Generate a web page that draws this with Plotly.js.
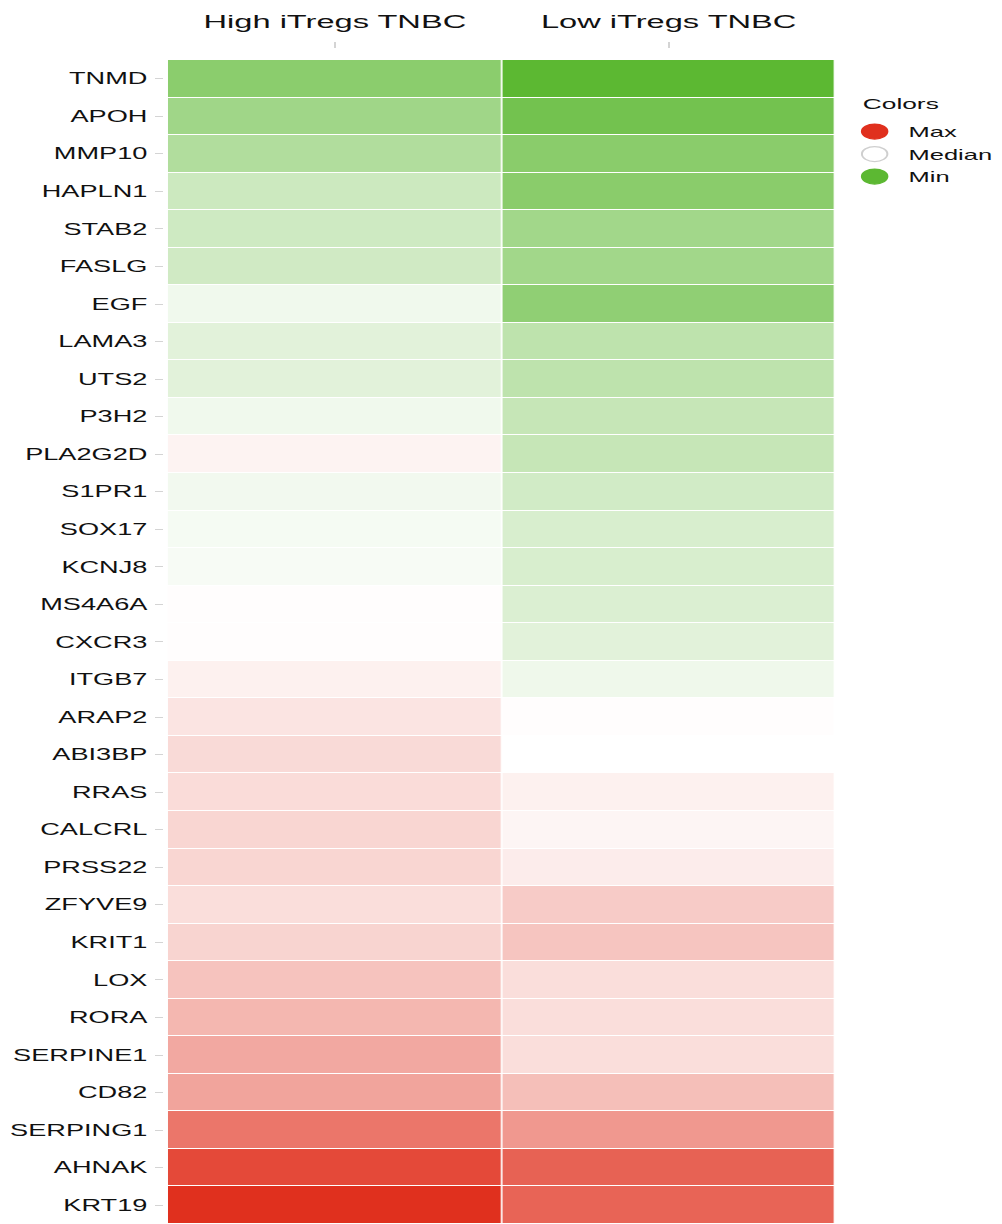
<!DOCTYPE html>
<html>
<head>
<meta charset="utf-8">
<script src="https://cdn.plot.ly/plotly-3.0.1.min.js"></script>
<style>
  html, body { margin: 0; padding: 0; background: #ffffff; overflow: hidden; }
  /* The figure is laid out narrow and then widened horizontally to fill the page */
  #chart { width: 590px; height: 1224px; transform: scaleX(1.6983); transform-origin: 0 0; }
</style>
</head>
<body>
<div id="chart"></div>
<script>
// Column groups
const groups = ['High iTregs TNBC', 'Low iTregs TNBC'];

// Genes, top to bottom
const genes = [
  'TNMD', 'APOH', 'MMP10', 'HAPLN1', 'STAB2', 'FASLG', 'EGF', 'LAMA3', 'UTS2', 'P3H2',
  'PLA2G2D', 'S1PR1', 'SOX17', 'KCNJ8', 'MS4A6A', 'CXCR3', 'ITGB7', 'ARAP2', 'ABI3BP', 'RRAS',
  'CALCRL', 'PRSS22', 'ZFYVE9', 'KRIT1', 'LOX', 'RORA', 'SERPINE1', 'CD82', 'SERPING1', 'AHNAK',
  'KRT19'
];

// Scaled expression (-1 = min, 0 = median, 1 = max)
const highITregs = [
  -0.71, -0.58, -0.48, -0.31, -0.30, -0.29, -0.09, -0.18, -0.18, -0.09,
   0.06, -0.08, -0.06, -0.05,  0.01,  0.01,  0.07,  0.13,  0.18,  0.17,
   0.20,  0.20,  0.16,  0.21,  0.29,  0.35,  0.42,  0.44,  0.66,  0.88,
   1.00
];
const lowITregs = [
  -1.00, -0.86, -0.72, -0.72, -0.57, -0.57, -0.68, -0.40, -0.40, -0.35,
  -0.35, -0.28, -0.24, -0.24, -0.22, -0.18, -0.10,  0.01,  0.00,  0.07,
   0.05,  0.09,  0.25,  0.28,  0.16,  0.16,  0.16,  0.31,  0.50,  0.76,
   0.75
];

// Legend entries
const legendTitle = 'Colors';
const legendNames = ['Max', 'Median', 'Min'];
const legendFill = ['#e0301e', '#ffffff', '#5cb832'];
const legendEdge = ['#e0301e', '#cfcfcf', '#5cb832'];

const z = genes.map((g, i) => [highITregs[i], lowITregs[i]]);

const heat = {
  type: 'heatmap',
  x: groups,
  y: genes,
  z: z,
  zmin: -1,
  zmax: 1,
  colorscale: [[0, '#5cb832'], [0.5, '#ffffff'], [1, '#e0301e']],
  showscale: false,
  xgap: 1,
  ygap: 1
};

const legendTraces = legendNames.map((name, i) => ({
  type: 'scatter',
  mode: 'markers',
  x: [null],
  y: [null],
  name: name,
  marker: { size: 15, color: legendFill[i], line: { color: legendEdge[i], width: 1.2 } },
  showlegend: true,
  hoverinfo: 'skip'
}));

const font = 'Liberation Sans, Arial, Helvetica, sans-serif';
const ink = '#111111';

const layout = {
  width: 590,
  height: 1224,
  margin: { l: 96, r: 98, t: 48, b: 0, pad: 0 },
  paper_bgcolor: '#ffffff',
  plot_bgcolor: '#ffffff',
  font: { family: font, color: ink },
  xaxis: {
    domain: [0.0073, 1],
    side: 'top',
    anchor: 'free',
    position: 1,
    showgrid: false,
    zeroline: false,
    showline: false,
    ticks: 'outside',
    ticklen: 6,
    tickwidth: 1,
    tickcolor: '#d4d4d4',
    ticklabelstandoff: 6,
    tickfont: { size: 19.2, family: font, color: ink },
    fixedrange: true
  },
  yaxis: {
    domain: [0, 0.9898],
    anchor: 'free',
    position: 0,
    autorange: 'reversed',
    showgrid: false,
    zeroline: false,
    showline: false,
    ticks: 'outside',
    ticklen: 5,
    tickwidth: 1,
    tickcolor: '#d4d4d4',
    ticklabelstandoff: 1,
    tickfont: { size: 16, family: font, color: ink },
    fixedrange: true
  },
  showlegend: true,
  legend: {
    xref: 'container',
    yref: 'container',
    x: 0.839,
    y: 0.9058,
    xanchor: 'left',
    yanchor: 'top',
    font: { size: 15, family: font, color: ink },
    bgcolor: 'rgba(0,0,0,0)',
    itemclick: false,
    itemdoubleclick: false,
    tracegroupgap: 0
  },
  annotations: [{
    text: legendTitle,
    xref: 'paper',
    yref: 'paper',
    x: 1.0346,
    y: 0.9524,
    xanchor: 'left',
    yanchor: 'middle',
    showarrow: false,
    font: { size: 15.5, family: font, color: ink }
  }]
};

Plotly.newPlot('chart', [heat].concat(legendTraces), layout, { displayModeBar: false, staticPlot: true });
</script>
</body>
</html>
